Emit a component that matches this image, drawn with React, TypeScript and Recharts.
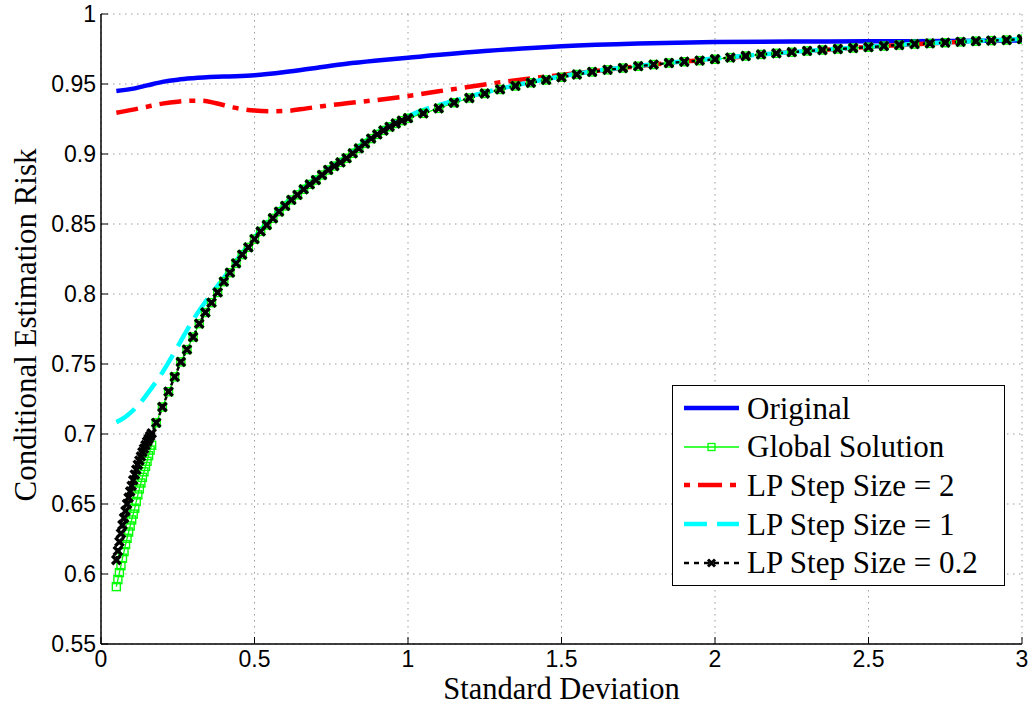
import React from "react";
import { CartesianGrid, Legend, Line, LineChart, XAxis, YAxis } from "recharts";

// sigma grid used by the two marker series
const sigmaDense = [
  0.05, 0.055, 0.06, 0.065, 0.07, 0.075, 0.08, 0.085, 0.09, 0.095, 0.1, 0.105,
  0.11, 0.115, 0.12, 0.125, 0.13, 0.135, 0.14, 0.145, 0.15, 0.155, 0.16, 0.165,
];
const sigmaTail = [
  0.18, 0.2, 0.22, 0.24, 0.26, 0.28, 0.3, 0.32, 0.34, 0.36, 0.38, 0.4, 0.42, 0.44,
  0.46, 0.48, 0.5, 0.52, 0.54, 0.56, 0.58, 0.6, 0.62, 0.64, 0.66, 0.68, 0.7, 0.72,
  0.74, 0.76, 0.78, 0.8, 0.82, 0.84, 0.86, 0.88, 0.9, 0.92, 0.94, 0.96, 0.98, 1.0,
  1.05, 1.1, 1.15, 1.2, 1.25, 1.3, 1.35, 1.4, 1.45, 1.5, 1.55, 1.6, 1.65, 1.7,
  1.75, 1.8, 1.85, 1.9, 1.95, 2.0, 2.05, 2.1, 2.15, 2.2, 2.25, 2.3, 2.35, 2.4,
  2.45, 2.5, 2.55, 2.6, 2.65, 2.7, 2.75, 2.8, 2.85, 2.9, 2.95, 3.0,
];

const globalDense = [
  0.591, 0.596, 0.601, 0.606, 0.6113, 0.616, 0.621, 0.6255, 0.63, 0.6343, 0.6386,
  0.6428, 0.647, 0.6518, 0.6565, 0.6608, 0.665, 0.669, 0.673, 0.6768, 0.6805,
  0.6845, 0.6885, 0.692,
];
const step02Dense = [
  0.61, 0.6165, 0.623, 0.629, 0.635, 0.64, 0.645, 0.65, 0.6545, 0.659, 0.663,
  0.667, 0.671, 0.6745, 0.678, 0.681, 0.684, 0.687, 0.6895, 0.692, 0.6945,
  0.6965, 0.6985, 0.7005,
];
// global solution and step 0.2 lie on top of each other past sigma = 0.17
const sharedTail = [
  0.708, 0.7193, 0.7302, 0.7408, 0.7515, 0.7603, 0.7693, 0.7788, 0.7868, 0.7938,
  0.8011, 0.8088, 0.8152, 0.8219, 0.8281, 0.8333, 0.8392, 0.8447, 0.8493, 0.8541,
  0.8588, 0.8629, 0.8672, 0.8708, 0.8748, 0.8783, 0.8814, 0.885, 0.8886, 0.8914,
  0.894, 0.897, 0.9005, 0.904, 0.9075, 0.911, 0.914, 0.9168, 0.9194, 0.9218,
  0.9238, 0.9256, 0.929, 0.9326, 0.9366, 0.94, 0.9432, 0.9461, 0.9486, 0.9509,
  0.9529, 0.9548, 0.9568, 0.9586, 0.9601, 0.9614, 0.9627, 0.9639, 0.965, 0.9659,
  0.9667, 0.9677, 0.9689, 0.97, 0.9711, 0.9719, 0.9727, 0.9736, 0.9743, 0.975,
  0.9757, 0.9763, 0.9771, 0.9778, 0.9785, 0.979, 0.9795, 0.9801, 0.9806, 0.981,
  0.9814, 0.982,
];

const originalSigma = [0.05, 0.1, 0.15, 0.2, 0.25, 0.3, 0.4, 0.5, 0.6, 0.7, 0.8, 0.9, 1.0, 1.25, 1.5, 1.75, 2.0, 2.25, 2.5, 2.75, 3.0];
const originalRisk = [0.945, 0.9465, 0.949, 0.9515, 0.9531, 0.9541, 0.9553, 0.9562, 0.9585, 0.9615, 0.9645, 0.9668, 0.9688, 0.9735, 0.977, 0.979, 0.98, 0.9803, 0.9805, 0.9807, 0.981];

const step2Sigma = [0.05, 0.1, 0.15, 0.2, 0.25, 0.3, 0.33, 0.375, 0.43, 0.5, 0.55, 0.6, 0.67, 0.75, 0.8, 0.9, 1.0, 1.1, 1.2, 1.3, 1.4, 1.5, 1.6, 1.7, 1.8, 1.9, 2.0, 2.25, 2.5, 2.75, 3.0];
const step2Risk = [0.9295, 0.9315, 0.9338, 0.936, 0.9374, 0.938, 0.938, 0.9362, 0.9333, 0.931, 0.9305, 0.9307, 0.9326, 0.935, 0.9362, 0.9386, 0.9414, 0.9448, 0.948, 0.9512, 0.954, 0.9565, 0.959, 0.9615, 0.964, 0.966, 0.9678, 0.9728, 0.9764, 0.9796, 0.982];

const step1Sigma = [0.05, 0.075, 0.1, 0.125, 0.15, 0.2, 0.25, 0.3, 0.35, 0.4, 0.45, 0.5, 0.6, 0.7, 0.8, 0.9, 1.0, 1.2, 1.5, 2.0, 2.5, 3.0];
const step1Risk = [0.7085, 0.7115, 0.716, 0.7215, 0.7285, 0.744, 0.7625, 0.7815, 0.7975, 0.8115, 0.8265, 0.8405, 0.8645, 0.883, 0.8985, 0.9155, 0.927, 0.941, 0.9555, 0.9682, 0.9766, 0.9822];

const xTicks = [0, 0.5, 1, 1.5, 2, 2.5, 3];
const yTicks = [0.55, 0.6, 0.65, 0.7, 0.75, 0.8, 0.85, 0.9, 0.95, 1];

const seriesNames = ["Original", "Global Solution", "LP Step Size = 2", "LP Step Size = 1", "LP Step Size = 0.2"];

const pairUp = (xs: number[], ys: number[]) => xs.map((x, i) => ({ x, y: ys[i] }));

const originalData = pairUp(originalSigma, originalRisk);
const globalData = pairUp([...sigmaDense, ...sigmaTail], [...globalDense, ...sharedTail]);
const step2Data = pairUp(step2Sigma, step2Risk);
const step1Data = pairUp(step1Sigma, step1Risk);
const step02Data = pairUp([...sigmaDense, ...sigmaTail], [...step02Dense, ...sharedTail]);

const SANS = "'Liberation Sans', Arial, Helvetica, sans-serif";
const SERIF = "'Liberation Serif', 'Times New Roman', serif";

const tickStyle = { fill: "#000", fontSize: 23, fontFamily: SANS };

const SquareDot = (props: any) => {
  const { cx, cy, index } = props;
  if (cx == null || cy == null) return <g key={`sq-${index}`} />;
  return (
    <rect key={`sq-${index}`} x={cx - 4} y={cy - 4} width={8} height={8}
      fill="none" stroke="#00ff00" strokeWidth={1.4} strokeDasharray="none" />
  );
};

const CrossDot = (props: any) => {
  const { cx, cy, index } = props;
  if (cx == null || cy == null) return <g key={`cx-${index}`} />;
  const h = 4.2;
  return (
    <path key={`cx-${index}`} d={`M${cx - h},${cy - h}L${cx + h},${cy + h}M${cx - h},${cy + h}L${cx + h},${cy - h}`}
      stroke="#000" strokeWidth={3.4} strokeDasharray="none" fill="none" />
  );
};

const XTitle = (props: any) => {
  const vb = props.viewBox || { x: 101, y: 644, width: 921 };
  return (
    <text x={vb.x + vb.width / 2} y={vb.y + 55} textAnchor="middle" fontFamily={SERIF} fontSize={30.5} fill="#000">
      Standard Deviation
    </text>
  );
};

const YTitle = (props: any) => {
  const vb = props.viewBox || { x: 0, y: 14, height: 630 };
  const cy = vb.y + vb.height / 2 - 4;
  return (
    <text x={36} y={cy} transform={`rotate(-90 36 ${cy})`} textAnchor="middle" fontFamily={SERIF} fontSize={31} fill="#000">
      Conditional Estimation Risk
    </text>
  );
};

const LegendSample = ({ i }: { i: number }) => {
  const mid = 10;
  if (i === 0) return <line x1={0} y1={mid} x2={55} y2={mid} stroke="#0000ff" strokeWidth={4.5} />;
  if (i === 1)
    return (
      <g>
        <line x1={0} y1={mid} x2={55} y2={mid} stroke="#00ff00" strokeWidth={1.3} />
        <rect x={24} y={mid - 3.5} width={7} height={7} fill="none" stroke="#00ff00" strokeWidth={1.3} />
      </g>
    );
  if (i === 2) return <line x1={0} y1={mid} x2={55} y2={mid} stroke="#ff0000" strokeWidth={4.5} strokeDasharray="6 8 24 8" />;
  if (i === 3) return <line x1={0} y1={mid} x2={55} y2={mid} stroke="#00ffff" strokeWidth={4.5} strokeDasharray="23 10" />;
  return (
    <g>
      <line x1={0} y1={mid} x2={55} y2={mid} stroke="#000" strokeWidth={2.5} strokeDasharray="5 5" />
      <path d={`M24,${mid - 3.5}L31,${mid + 3.5}M24,${mid + 3.5}L31,${mid - 3.5}`} stroke="#000" strokeWidth={3} />
    </g>
  );
};

const LegendBox = () => (
  <div style={{ border: "1px solid #000", background: "#fff", width: 331, height: 196, boxSizing: "content-box", paddingTop: 3 }}>
    {seriesNames.map((name, i) => (
      <div key={name} style={{ display: "flex", alignItems: "center", height: 38.6 }}>
        <svg width={56} height={20} style={{ marginLeft: 11, marginRight: 7, overflow: "visible" }}>
          <LegendSample i={i} />
        </svg>
        <span style={{ fontFamily: SERIF, fontSize: 31, lineHeight: 1, color: "#000", whiteSpace: "nowrap" }}>{name}</span>
      </div>
    ))}
  </div>
);

export default function App() {
  return (
    <div style={{ position: "absolute", left: 0, top: 0, width: 1034, height: 706, background: "#fff" }}>
      <LineChart width={1034} height={706} margin={{ top: 14, right: 12, bottom: 0, left: 0 }}>
        <CartesianGrid stroke="#9a9a9a" strokeDasharray="1.5 4.5" />
        <XAxis dataKey="x" type="number" domain={[0, 3]} ticks={xTicks} interval={0} height={62}
          allowDataOverflow tick={tickStyle} tickSize={-7} tickMargin={14}
          axisLine={{ stroke: "#000", strokeWidth: 1.5 }} tickLine={{ stroke: "#000" }}
          label={<XTitle />} />
        <XAxis xAxisId="top" orientation="top" type="number" domain={[0, 3]} ticks={xTicks} interval={0}
          height={0} tick={false} tickSize={-7} axisLine={{ stroke: "#000", strokeWidth: 1.5 }} tickLine={{ stroke: "#000" }} />
        <YAxis type="number" domain={[0.55, 1]} ticks={yTicks} interval={0} width={101} allowDataOverflow
          tick={tickStyle} tickSize={-7} tickMargin={12} tickFormatter={(v: number) => String(v)}
          axisLine={{ stroke: "#000", strokeWidth: 1.5 }} tickLine={{ stroke: "#000" }}
          label={<YTitle />} />
        <YAxis yAxisId="right" orientation="right" type="number" domain={[0.55, 1]} ticks={yTicks} interval={0}
          width={0} tick={false} tickSize={-7} axisLine={{ stroke: "#000", strokeWidth: 1.5 }} tickLine={{ stroke: "#000" }} />

        <Line data={originalData} dataKey="y" name={seriesNames[0]} type="monotone" stroke="#0000ff"
          strokeWidth={4.5} dot={false} isAnimationActive={false} />
        <Line data={globalData} dataKey="y" name={seriesNames[1]} type="linear" stroke="#00ff00"
          strokeWidth={1.3} dot={SquareDot} isAnimationActive={false} />
        <Line data={step2Data} dataKey="y" name={seriesNames[2]} type="monotone" stroke="#ff0000"
          strokeWidth={4.5} strokeDasharray="22 8 6 8" dot={false} isAnimationActive={false} />
        <Line data={step1Data} dataKey="y" name={seriesNames[3]} type="monotone" stroke="#00ffff"
          strokeWidth={4.5} strokeDasharray="23 10" dot={false} isAnimationActive={false} />
        <Line data={step02Data} dataKey="y" name={seriesNames[4]} type="linear" stroke="#000"
          strokeWidth={2.5} strokeDasharray="4 4" dot={CrossDot} isAnimationActive={false} />

        <Legend layout="vertical" align="center" verticalAlign="middle" content={<LegendBox />}
          wrapperStyle={{ left: 672, top: 385, width: 333, height: 200 }} />
      </LineChart>
    </div>
  );
}
